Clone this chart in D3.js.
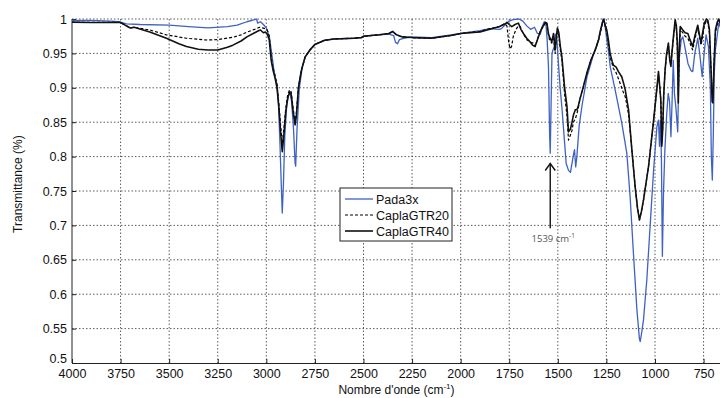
<!DOCTYPE html>
<html>
<head>
<meta charset="utf-8">
<script src="https://cdn.jsdelivr.net/npm/d3@7"></script>
<style>
  body { margin: 0; background: #fff; }
  svg { display: block; font-family: "Liberation Sans", Arial, sans-serif; }
  .grid line { stroke: #333; stroke-width: 0.8; stroke-dasharray: 1.5, 2; }
</style>
</head>
<body>
<svg id="chart"></svg>
<script>
// tick values
const xTicks = [4000, 3750, 3500, 3250, 3000, 2750, 2500, 2250, 2000, 1750, 1500, 1250, 1000, 750];
const yTicks = [0.5, 0.55, 0.6, 0.65, 0.7, 0.75, 0.8, 0.85, 0.9, 0.95, 1];
const seriesNames = ["Pada3x", "CaplaGTR20", "CaplaGTR40"];

// [wavenumber, transmittance]
const pada3x = [[4000,0.998],[3900,0.998],[3800,0.997],[3760,0.996],[3720,0.993],[3650,0.992],[3500,0.991],[3400,0.989],[3300,0.987],[3200,0.989],[3150,0.991],[3100,0.996],[3060,0.999],[3050,1.0],[3045,0.994],[3030,0.996],[3015,0.992],[3000,0.987],[2985,0.975],[2970,0.945],[2962,0.928],[2955,0.915],[2945,0.905],[2938,0.88],[2930,0.82],[2922,0.75],[2918,0.718],[2912,0.76],[2905,0.83],[2895,0.875],[2885,0.89],[2877,0.892],[2870,0.88],[2860,0.84],[2852,0.79],[2849,0.786],[2842,0.84],[2830,0.9],[2815,0.93],[2800,0.945],[2775,0.956],[2750,0.963],[2700,0.969],[2650,0.971],[2550,0.972],[2510,0.973],[2500,0.975],[2420,0.977],[2370,0.978],[2345,0.976],[2335,0.966],[2325,0.964],[2315,0.970],[2295,0.972],[2250,0.974],[2150,0.973],[2050,0.977],[2000,0.979],[1900,0.983],[1850,0.986],[1800,0.985],[1790,0.986],[1770,0.992],[1750,0.997],[1730,0.999],[1700,1.0],[1680,0.997],[1660,0.99],[1640,0.985],[1620,0.988],[1605,0.979],[1590,0.978],[1582,0.988],[1570,0.996],[1562,0.995],[1555,0.97],[1548,0.93],[1542,0.83],[1539,0.805],[1535,0.87],[1530,0.95],[1525,0.955],[1518,0.96],[1512,0.978],[1506,0.975],[1498,0.94],[1488,0.9],[1478,0.868],[1465,0.82],[1457,0.79],[1445,0.78],[1435,0.777],[1427,0.79],[1418,0.805],[1414,0.81],[1408,0.785],[1402,0.8],[1390,0.845],[1375,0.875],[1350,0.916],[1320,0.945],[1300,0.96],[1282,0.979],[1268,1.0],[1262,1.0],[1250,0.975],[1240,0.955],[1230,0.93],[1205,0.897],[1188,0.873],[1171,0.849],[1145,0.805],[1128,0.742],[1111,0.66],[1093,0.577],[1080,0.535],[1076,0.531],[1068,0.545],[1059,0.563],[1042,0.621],[1024,0.704],[1007,0.781],[990,0.844],[982,0.853],[977,0.815],[972,0.853],[967,0.8],[962,0.655],[956,0.75],[949,0.81],[940,0.86],[932,0.892],[925,0.88],[918,0.829],[912,0.88],[906,0.94],[900,0.892],[892,0.87],[883,0.836],[876,0.94],[865,0.97],[857,0.974],[850,0.965],[840,0.95],[830,0.935],[815,0.925],[806,0.9235],[795,0.95],[780,0.972],[770,0.95],[757,0.916],[747,0.95],[737,0.977],[725,0.96],[715,0.9],[710,0.8],[705,0.766],[700,0.83],[695,0.92],[689,0.955],[672,0.994],[660,0.985],[650,0.99]];

const caplaGTR20 = [[4000,0.995],[3900,0.995],[3800,0.995],[3750,0.995],[3720,0.99],[3700,0.987],[3680,0.988],[3600,0.984],[3514,0.977],[3411,0.972],[3308,0.9695],[3250,0.97],[3172,0.9734],[3130,0.977],[3102,0.9806],[3060,0.985],[3035,0.988],[3020,0.987],[3005,0.986],[2995,0.984],[2985,0.975],[2975,0.945],[2965,0.928],[2955,0.918],[2945,0.905],[2935,0.875],[2925,0.84],[2918,0.82],[2910,0.84],[2900,0.87],[2890,0.89],[2880,0.897],[2872,0.894],[2862,0.87],[2852,0.85],[2845,0.865],[2835,0.9],[2820,0.925],[2800,0.945],[2775,0.955],[2750,0.963],[2700,0.969],[2650,0.971],[2550,0.972],[2510,0.973],[2500,0.975],[2420,0.977],[2370,0.979],[2350,0.981],[2330,0.977],[2300,0.974],[2250,0.973],[2150,0.972],[2050,0.976],[2000,0.979],[1900,0.982],[1850,0.986],[1800,0.989],[1775,0.993],[1762,0.99],[1752,0.965],[1746,0.957],[1738,0.96],[1729,0.975],[1715,0.985],[1703,0.99],[1694,0.989],[1680,0.98],[1660,0.97],[1640,0.966],[1626,0.965],[1617,0.96],[1605,0.97],[1590,0.983],[1574,0.989],[1560,0.996],[1550,0.98],[1543,0.97],[1531,0.965],[1522,0.975],[1514,0.95],[1507,0.972],[1502,0.985],[1495,0.978],[1487,0.955],[1479,0.94],[1465,0.89],[1453,0.86],[1445,0.824],[1437,0.83],[1427,0.838],[1420,0.85],[1410,0.855],[1402,0.862],[1395,0.87],[1385,0.885],[1370,0.9],[1351,0.92],[1330,0.94],[1308,0.955],[1290,0.97],[1282,0.98],[1270,0.994],[1264,0.998],[1255,0.988],[1248,0.98],[1240,0.965],[1231,0.945],[1214,0.928],[1200,0.922],[1180,0.907],[1165,0.895],[1153,0.887],[1136,0.862],[1119,0.81],[1102,0.756],[1090,0.725],[1080,0.708],[1070,0.72],[1059,0.737],[1033,0.786],[1007,0.853],[990,0.9],[982,0.92],[975,0.9],[970,0.882],[965,0.82],[960,0.845],[955,0.89],[948,0.925],[940,0.948],[931,0.962],[924,0.945],[918,0.935],[913,0.95],[905,0.972],[896,0.995],[890,0.985],[885,0.96],[880,0.89],[876,0.94],[870,0.985],[857,0.98],[845,0.975],[831,0.972],[820,0.965],[806,0.955],[795,0.97],[780,0.988],[770,0.972],[763,0.962],[755,0.975],[746,0.99],[735,0.998],[728,0.995],[720,0.98],[712,0.93],[706,0.89],[702,0.885],[697,0.93],[689,0.98],[680,0.992],[672,0.998],[660,0.99],[650,0.993]];

const caplaGTR40 = [[4000,0.9955],[3900,0.995],[3800,0.995],[3750,0.995],[3720,0.99],[3700,0.987],[3680,0.988],[3600,0.981],[3514,0.972],[3450,0.964],[3411,0.96],[3350,0.956],[3300,0.955],[3250,0.955],[3200,0.959],[3172,0.962],[3130,0.968],[3100,0.974],[3060,0.98],[3040,0.983],[3030,0.984],[3015,0.98],[3005,0.981],[2995,0.978],[2985,0.97],[2975,0.94],[2965,0.925],[2955,0.914],[2945,0.9],[2935,0.87],[2925,0.83],[2918,0.807],[2910,0.83],[2900,0.865],[2890,0.885],[2880,0.894],[2872,0.89],[2862,0.865],[2852,0.846],[2845,0.86],[2835,0.9],[2820,0.925],[2800,0.945],[2775,0.955],[2750,0.963],[2700,0.969],[2650,0.971],[2550,0.972],[2510,0.973],[2500,0.975],[2420,0.977],[2370,0.979],[2350,0.982],[2330,0.977],[2300,0.974],[2250,0.973],[2150,0.972],[2050,0.976],[2000,0.979],[1900,0.981],[1850,0.985],[1800,0.989],[1770,0.993],[1762,0.995],[1750,0.992],[1737,0.989],[1720,0.992],[1703,0.994],[1690,0.985],[1677,0.979],[1660,0.972],[1643,0.967],[1630,0.962],[1617,0.96],[1605,0.97],[1600,0.974],[1585,0.985],[1565,0.995],[1556,0.994],[1548,0.978],[1543,0.974],[1531,0.967],[1522,0.979],[1514,0.955],[1507,0.975],[1502,0.987],[1495,0.98],[1487,0.96],[1479,0.945],[1465,0.9],[1453,0.873],[1445,0.836],[1435,0.84],[1427,0.85],[1420,0.86],[1410,0.868],[1402,0.868],[1395,0.873],[1385,0.885],[1370,0.9],[1351,0.921],[1330,0.94],[1308,0.955],[1290,0.97],[1282,0.982],[1270,0.995],[1264,0.999],[1255,0.99],[1248,0.984],[1240,0.97],[1231,0.95],[1220,0.938],[1214,0.933],[1200,0.93],[1188,0.9235],[1171,0.916],[1160,0.905],[1153,0.897],[1136,0.868],[1119,0.81],[1102,0.756],[1090,0.725],[1080,0.708],[1070,0.72],[1059,0.737],[1033,0.786],[1007,0.853],[990,0.9],[982,0.9235],[975,0.9],[970,0.882],[965,0.815],[960,0.84],[955,0.89],[948,0.926],[940,0.95],[931,0.965],[924,0.94],[918,0.931],[913,0.95],[905,0.975],[896,0.999],[890,0.99],[885,0.965],[880,0.878],[876,0.95],[870,0.989],[857,0.984],[845,0.98],[831,0.979],[820,0.97],[806,0.96],[795,0.975],[780,0.991],[770,0.975],[763,0.965],[755,0.98],[746,0.994],[735,1.0],[728,0.998],[720,0.985],[712,0.93],[706,0.88],[702,0.878],[697,0.93],[689,0.984],[680,0.995],[672,1.0],[660,0.99],[650,0.995]];

const annotationWn = 1539;

class SpectrumChart {

  constructor(_config) {
    this.config = {
      parentElement: _config.parentElement,
      containerWidth: _config.containerWidth || 720,
      containerHeight: _config.containerHeight || 398,
    }
    this.config.margin = _config.margin || { top: 19, bottom: 35, right: -3, left: 72 };
    this.initVis();
  }

  initVis() {
    let vis = this;
    vis.width = vis.config.containerWidth - vis.config.margin.left - vis.config.margin.right;
    vis.height = vis.config.containerHeight - vis.config.margin.top - vis.config.margin.bottom;

    vis.svg = d3.select(vis.config.parentElement)
        .attr('width', vis.config.containerWidth)
        .attr('height', vis.config.containerHeight);

    vis.chart = vis.svg.append('g')
        .attr('transform', `translate(${vis.config.margin.left},${vis.config.margin.top})`);

    vis.x = d3.scaleLinear().domain([4000, 650]).range([0, vis.width]);
    vis.y = d3.scaleLinear().domain([0.5, 1]).range([vis.height, 0]);

    vis.svg.append('defs').append('clipPath').attr('id', 'plot-clip')
      .append('rect').attr('x', 0).attr('y', -1).attr('width', vis.width).attr('height', vis.height + 1);

    vis.palette = {"Pada3x": "#3f62c2", "CaplaGTR20": "#000", "CaplaGTR40": "#111"};
    vis.dash = {"Pada3x": null, "CaplaGTR20": "3,2", "CaplaGTR40": null};
    vis.widths = {"Pada3x": 1.3, "CaplaGTR20": 1.2, "CaplaGTR40": 1.6};
  }

  render() {
    let vis = this;

    // grid
    vis.chart.append('g').attr('class', 'grid')
      .selectAll('line').data(xTicks.filter(d => d !== 4000)).join('line')
        .attr('x1', d => vis.x(d)).attr('x2', d => vis.x(d))
        .attr('y1', 0).attr('y2', vis.height);
    vis.chart.append('g').attr('class', 'grid')
      .selectAll('line').data(yTicks.filter(d => d !== 0.5)).join('line')
        .attr('x1', 0).attr('x2', vis.width)
        .attr('y1', d => vis.y(d)).attr('y2', d => vis.y(d));

    // axes
    let xAxis = d3.axisBottom(vis.x).tickValues(xTicks).tickSize(-4).tickPadding(6).tickFormat(d3.format('d'));
    let yAxis = d3.axisLeft(vis.y).tickValues(yTicks).tickSize(-4).tickPadding(5).tickFormat(d => d3.format('')(d));

    let gx = vis.chart.append('g').attr('transform', `translate(0,${vis.height})`).call(xAxis);
    let gy = vis.chart.append('g').call(yAxis);
    [gx, gy].forEach(g => {
      g.select('.domain').attr('stroke', '#222').attr('stroke-width', 1);
      g.selectAll('.tick line').attr('stroke', '#222');
      g.selectAll('.tick text').attr('font-size', 12.5).attr('fill', '#111')
        .attr('font-family', '"Liberation Sans", Arial, sans-serif');
    });
    gy.select('.domain').attr('d', `M0,${vis.height}V0`);
    // lowest y label sits a bit higher, clear of "4000"
    gy.selectAll('.tick').filter(d => d === 0.5).select('text').attr('dy', '-0.05em');

    // lines
    let line = d3.line().x(d => vis.x(d[0])).y(d => vis.y(d[1]));
    let seriesData = {"Pada3x": pada3x, "CaplaGTR20": caplaGTR20, "CaplaGTR40": caplaGTR40};
    let lines = vis.chart.append('g').attr('clip-path', 'url(#plot-clip)');
    seriesNames.forEach(name => {
      lines.append('path')
        .datum(seriesData[name])
        .attr('fill', 'none')
        .attr('stroke', vis.palette[name])
        .attr('stroke-width', vis.widths[name])
        .attr('stroke-dasharray', vis.dash[name])
        .attr('stroke-linejoin', 'round')
        .attr('d', line);
    });

    // axis titles
    vis.svg.append('text')
      .attr('x', vis.config.margin.left + vis.x(2330)).attr('y', 394)
      .attr('text-anchor', 'middle').attr('font-size', 12).attr('fill', '#111')
      .html('Nombre d\'onde (cm<tspan dy="-5" font-size="8">-1</tspan><tspan dy="5">)</tspan>');
    vis.svg.append('text')
      .attr('transform', `translate(22,${vis.config.margin.top + vis.y(0.76)}) rotate(-90)`)
      .attr('text-anchor', 'middle').attr('font-size', 12).attr('fill', '#111')
      .text('Transmittance (%)');

    // annotation arrow
    let ax = vis.x(annotationWn);
    let ann = vis.chart.append('g');
    ann.append('line').attr('x1', ax).attr('x2', ax).attr('y1', vis.y(0.696)).attr('y2', vis.y(0.79))
      .attr('stroke', '#111').attr('stroke-width', 1.4);
    ann.append('path')
      .attr('d', `M${ax - 5},${vis.y(0.79) + 7}L${ax},${vis.y(0.79)}L${ax + 5},${vis.y(0.79) + 7}`)
      .attr('fill', 'none').attr('stroke', '#111').attr('stroke-width', 1.4);
    ann.append('text').attr('x', ax + 3).attr('y', vis.y(0.7) + 17)
      .attr('text-anchor', 'middle').attr('font-size', 9.5).attr('fill', '#555')
      .attr('font-family', '"Open Sans", sans-serif')
      .html(`${annotationWn} cm<tspan dy="-4" font-size="6.5">-1</tspan>`);

    // legend
    let lg = vis.svg.append('g').attr('transform', 'translate(340,188)');
    lg.append('rect').attr('width', 112).attr('height', 53)
      .attr('fill', '#fff').attr('stroke', '#222').attr('stroke-width', 1);
    seriesNames.forEach((name, i) => {
      let yy = 11 + i * 16;
      lg.append('line').attr('x1', 5).attr('x2', 33).attr('y1', yy).attr('y2', yy)
        .attr('stroke', vis.palette[name]).attr('stroke-width', vis.widths[name])
        .attr('stroke-dasharray', vis.dash[name]);
      lg.append('text').attr('x', 36).attr('y', yy + 4.5)
        .attr('font-size', 12.5).attr('fill', '#111').text(name);
    });
  }
}

let chart = new SpectrumChart({ parentElement: '#chart' });
chart.render();
</script>
</body>
</html>
